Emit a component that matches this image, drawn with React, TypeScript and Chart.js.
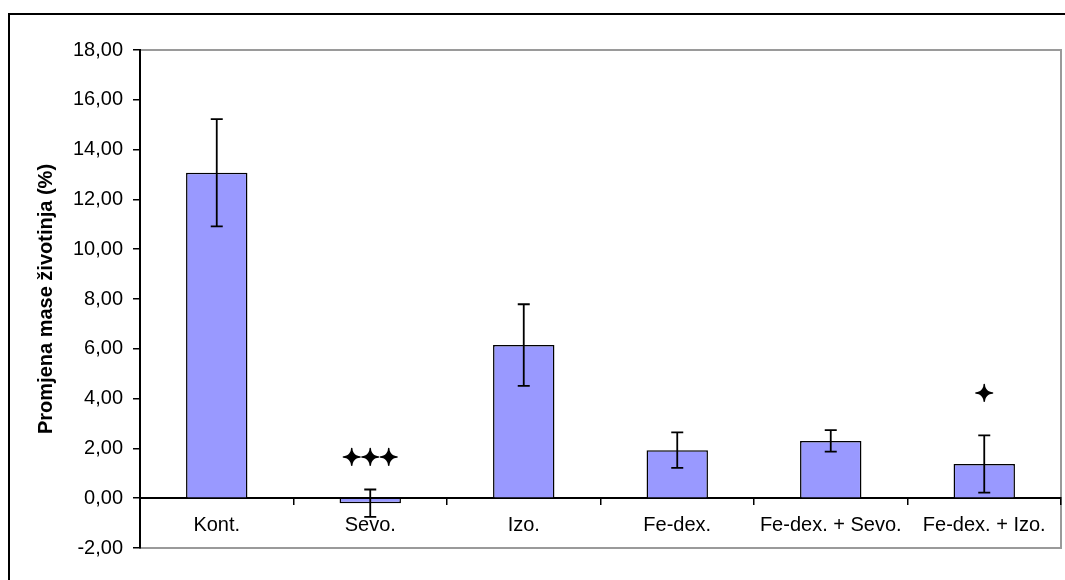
import React, { useEffect, useRef } from "react";
import { Chart, registerables } from "chart.js";

Chart.register(...registerables);

const categories = ["Kont.", "Sevo.", "Izo.", "Fe-dex.", "Fe-dex. + Sevo.", "Fe-dex. + Izo."];
const means = [13.07, -0.2, 6.15, 1.93, 2.3, 1.37];
const errors = [2.15, 0.55, 1.64, 0.71, 0.43, 1.15];
const markLabels = ["", "✦✦✦", "", "", "", "✦"];
const markValues = [0, 1.57, 0, 0, 0, 4.12];
const yTitle = "Promjena mase životinja (%)";

const FONT = "'Liberation Sans', Arial, sans-serif";

const framePlugin = {
  id: "frame",
  beforeDraw(chart: any) {
    const { ctx, chartArea } = chart;
    ctx.save();
    ctx.strokeStyle = "#000";
    ctx.lineWidth = 2;
    ctx.beginPath();
    ctx.moveTo(9, 580);
    ctx.lineTo(9, 14);
    ctx.lineTo(1065, 14);
    ctx.stroke();
    ctx.strokeStyle = "#9a9a9a";
    ctx.lineWidth = 2;
    ctx.strokeRect(chartArea.left, chartArea.top, chartArea.right - chartArea.left, chartArea.bottom - chartArea.top);
    ctx.restore();
  },
};

const errorBarPlugin = {
  id: "errorBars",
  afterDatasetsDraw(chart: any) {
    const { ctx } = chart;
    const y = chart.scales.y;
    const meta = chart.getDatasetMeta(0);
    ctx.save();
    ctx.strokeStyle = "#000";
    ctx.lineWidth = 1.8;
    meta.data.forEach((bar: any, i: number) => {
      const x = bar.x;
      const top = y.getPixelForValue(means[i] + errors[i]);
      const bot = y.getPixelForValue(means[i] - errors[i]);
      const cap = 6;
      ctx.beginPath();
      ctx.moveTo(x, top);
      ctx.lineTo(x, bot);
      ctx.moveTo(x - cap, top);
      ctx.lineTo(x + cap, top);
      ctx.moveTo(x - cap, bot);
      ctx.lineTo(x + cap, bot);
      ctx.stroke();
    });
    ctx.fillStyle = "#000";
    ctx.lineWidth = 1.6;
    ctx.lineJoin = "round";
    ctx.font = "bold 22px 'DejaVu Sans', sans-serif";
    ctx.textAlign = "center";
    ctx.textBaseline = "middle";
    meta.data.forEach((bar: any, i: number) => {
      if (!markLabels[i]) return;
      const py = y.getPixelForValue(markValues[i]);
      ctx.fillText(markLabels[i], bar.x, py);
      ctx.strokeText(markLabels[i], bar.x, py);
    });
    ctx.restore();
  },
};

export default function App() {
  const ref = useRef<HTMLCanvasElement>(null);

  useEffect(() => {
    if (!ref.current) return;
    const chart = new Chart(ref.current, {
      type: "bar",
      data: {
        labels: categories,
        datasets: [
          {
            data: means,
            backgroundColor: "#9999ff",
            borderColor: "#000",
            borderWidth: 1.5,
            categoryPercentage: 1,
            barPercentage: 0.4,
          },
        ],
      },
      options: {
        animation: false,
        responsive: false,
        devicePixelRatio: 1,
        layout: { padding: { top: 50, right: 4, bottom: 32, left: 0 } },
        plugins: { legend: { display: false }, tooltip: { enabled: false } },
        scales: {
          x: {
            position: { y: 0 } as any,
            offset: true,
            grid: {
              offset: true,
              drawOnChartArea: false,
              drawTicks: true,
              tickLength: 6,
              color: "#000",
              lineWidth: 1.5,
            },
            border: { display: true, color: "#000", width: 2 },
            ticks: {
              color: "#000",
              font: { family: FONT, size: 20 },
              padding: 9,
              maxRotation: 0,
              autoSkip: false,
            },
          },
          y: {
            min: -2,
            max: 18,
            afterFit(scale: any) {
              scale.width = 140;
            },
            grid: {
              drawOnChartArea: false,
              drawTicks: true,
              tickLength: 7,
              color: "#000",
              lineWidth: 1.5,
            },
            border: { display: true, color: "#000", width: 2 },
            ticks: {
              stepSize: 2,
              color: "#000",
              padding: 10,
              font: { family: FONT, size: 20 },
              callback: (v: any) => Number(v).toFixed(2).replace(".", ","),
            },
            title: {
              display: true,
              text: yTitle,
              color: "#000",
              font: { family: FONT, size: 20, weight: "bold" },
              padding: { top: 34, bottom: 0 },
            },
          },
        },
      },
      plugins: [framePlugin, errorBarPlugin],
    });
    return () => chart.destroy();
  }, []);

  return (
    <div style={{ position: "absolute", left: 0, top: 0, width: 1065, height: 580, background: "#fff" }}>
      <canvas ref={ref} width={1065} height={580} style={{ display: "block", width: 1065, height: 580 }} />
    </div>
  );
}
